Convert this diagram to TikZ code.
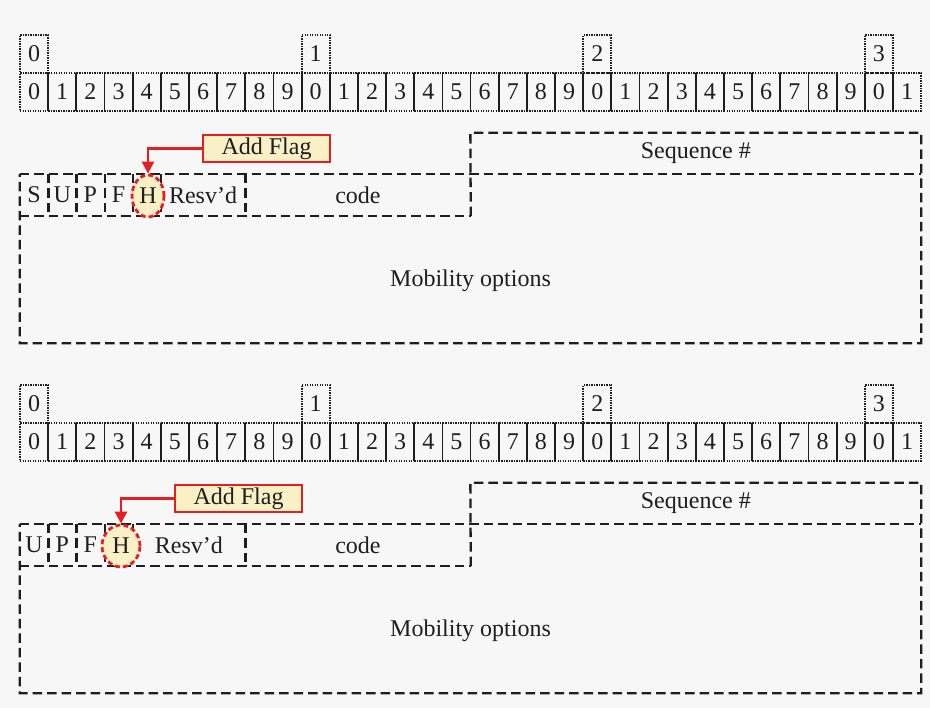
\documentclass[tikz,border=0pt]{standalone}
\usepackage{fontspec}
\setmainfont{Liberation Serif}
\usetikzlibrary{arrows.meta,shapes.geometric}
\definecolor{bg}{RGB}{247,247,247}
\definecolor{flagfill}{RGB}{250,240,198}
\definecolor{flagred}{RGB}{226,32,36}
\definecolor{ink}{RGB}{30,30,30}
\begin{document}
\begin{tikzpicture}[x=1pt,y=-1pt,
  every node/.style={font=\fontsize{24}{27}\selectfont, text=ink, inner sep=0pt},
  bitcell/.style={draw=ink, line width=1.8pt, dash pattern=on 1.4pt off 1.1pt,
    minimum width=28.16pt, minimum height=38pt},
  fld/.style={minimum height=42pt},
  fldline/.style={draw=ink, line width=2.3pt, dash pattern=on 9.5pt off 5pt},
  flagbox/.style={draw=flagred, fill=flagfill, line width=2.6pt,
    minimum width=127pt, minimum height=27pt},
  flagarrow/.style={draw=flagred, line width=2.6pt,
    -{Triangle[length=12pt,width=12pt]}},
  hilite/.style={ellipse, draw=flagred, fill=flagfill, line width=2.8pt,
    dash pattern=on 5pt off 3pt}]

% canvas
\fill[bg] (0,0) rectangle (930,708);
\useasboundingbox (0,0) rectangle (930,708);

% bit ruler for both headers
\foreach \p/\oy in {a/0,b/350}{
  \foreach \i in {0,...,31}{
    \pgfmathtruncatemacro\d{mod(\i,10)}
    \node[bitcell] (\p bit\i) at (34.08+28.16*\i, 92+\oy) {\d};
  }
  \foreach \k in {0,1,2,3}{
    \node[bitcell] (\p ten\k) at (34.08+281.6*\k, 54+\oy) {\k};
  }
}

% ---- header with S flag ----
\node[minimum width=901.12pt, minimum height=169pt] (amob) at (470.56,258.5) {};
\node (amobtxt) at (470.56,281) {Mobility options};
\node[minimum width=450.56pt, minimum height=41pt] (aseq) at (695.84,153.5) {Sequence \#};
\node[fld, minimum width=28.16pt] (aS) at (34.08,195) {S};
\node[fld, minimum width=28.16pt] (aU) at (62.24,195) {U};
\node[fld, minimum width=28.16pt] (aP) at (90.4,195) {P};
\node[fld, minimum width=28.16pt] (aF) at (118.56,195) {F};
\node[fld, minimum width=28.16pt] (aH) at (146.72,195) {};
\node[fld, minimum width=84.48pt] (aR) at (203.04,195) {Resv’d};
\node[fld, minimum width=225.28pt] (aC) at (357.92,195) {code};
% field outlines, each edge drawn once
\draw[fldline] (amob.north west) -- (amob.north east);
\draw[fldline] (aC.south east) -- (aseq.north west) -- (aseq.north east)
  -- (amob.south east) -- (amob.south west) -- (amob.north west);
\draw[fldline] (aS.south west) -- (aC.south east);
\foreach \f in {aS,aU,aP,aF,aH,aR}{
  \draw[fldline] (\f.north east) -- (\f.south east);
}
\node[hilite, minimum width=32pt, minimum height=42pt] (ahi) at (148,196) {H};
\node[flagbox] (aflag) at (266.5,148.5) {Add Flag};
\draw[flagarrow] (aflag.west) -| (ahi.north);

% ---- header without S flag ----
\node[minimum width=901.12pt, minimum height=169pt] (bmob) at (470.56,608.5) {};
\node (bmobtxt) at (470.56,631) {Mobility options};
\node[minimum width=450.56pt, minimum height=41pt] (bseq) at (695.84,503.5) {Sequence \#};
\node[fld, minimum width=28.16pt] (bU) at (34.08,545) {U};
\node[fld, minimum width=28.16pt] (bP) at (62.24,545) {P};
\node[fld, minimum width=28.16pt] (bF) at (90.4,545) {F};
\node[fld, minimum width=28.16pt] (bH) at (118.56,545) {};
\node[fld, minimum width=112.64pt] (bR) at (188.96,545) {Resv’d};
\node[fld, minimum width=225.28pt] (bC) at (357.92,545) {code};
\draw[fldline] (bmob.north west) -- (bmob.north east);
\draw[fldline] (bC.south east) -- (bseq.north west) -- (bseq.north east)
  -- (bmob.south east) -- (bmob.south west) -- (bmob.north west);
\draw[fldline] (bU.south west) -- (bC.south east);
\foreach \f in {bU,bP,bF,bH,bR}{
  \draw[fldline] (\f.north east) -- (\f.south east);
}
\node[hilite, minimum width=38pt, minimum height=42pt] (bhi) at (121,546) {H};
\node[flagbox] (bflag) at (238.5,498.5) {Add Flag};
\draw[flagarrow] (bflag.west) -| (bhi.north);
\end{tikzpicture}
\end{document}
